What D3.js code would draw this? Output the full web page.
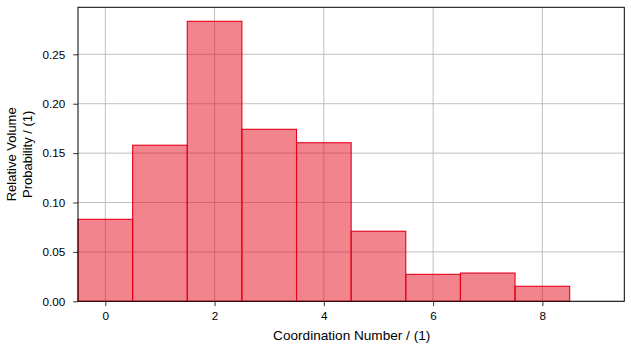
<!DOCTYPE html>
<html><head><meta charset="utf-8">
<script src="https://cdn.jsdelivr.net/npm/d3@7"></script>
<style>body{margin:0;background:#fff}svg{display:block}</style>
</head><body><svg id="c" width="631" height="349"></svg>
<script>
const categories = [0,1,2,3,4,5,6,7,8,9];
const values = [0.083,0.158,0.2834,0.1741,0.1605,0.0709,0.0273,0.0286,0.0152,0];
const xTicks = [0,2,4,6,8];
const yTicks = [0,0.05,0.10,0.15,0.20,0.25];
const xLabel = "Coordination Number / (1)";
const yLabelLines = ["Relative Volume","Probability / (1)"];

const svg = d3.select("#c");
const L=78, R=624.3, T=7.3, B=301.3;
const x = d3.scaleLinear().domain([-0.5,9.5]).range([L,R]);
const y = d3.scaleLinear().domain([0,0.2976]).range([B,T]);
const font = "Liberation Sans, Arial, sans-serif";

// grid
const g = svg.append("g");
g.selectAll(".gx").data(xTicks).join("line")
 .attr("x1",d=>x(d)).attr("x2",d=>x(d)).attr("y1",T).attr("y2",B)
 .attr("stroke","#b0b0b0").attr("stroke-width",0.8);
g.selectAll(".gy").data(yTicks).join("line")
 .attr("x1",L).attr("x2",R).attr("y1",d=>y(d)).attr("y2",d=>y(d))
 .attr("stroke","#b0b0b0").attr("stroke-width",0.8);

// bars
svg.append("g").selectAll("rect").data(categories).join("rect")
 .attr("x",(d)=>x(d-0.5)).attr("width",(d)=>x(d+0.5)-x(d-0.5))
 .attr("y",(d,i)=>y(values[i])).attr("height",(d,i)=>y(0)-y(values[i]))
 .attr("fill","rgb(228,10,28)").attr("fill-opacity",0.5)
 .attr("stroke","#e8001c").attr("stroke-width",1.1);

// axes
const xa = svg.append("g").attr("transform",`translate(0,${B})`)
 .call(d3.axisBottom(x).tickValues(xTicks).tickSize(4.8).tickPadding(5.5).tickFormat(d3.format("d")));
const ya = svg.append("g").attr("transform",`translate(${L},0)`)
 .call(d3.axisLeft(y).tickValues(yTicks).tickSize(4.8).tickPadding(8).tickFormat(d3.format(".2f")));
[xa,ya].forEach(a=>{a.select(".domain").remove();a.selectAll("text").attr("font-family",font).attr("font-size",11.7).attr("fill","#000");a.selectAll("line").attr("stroke","#000").attr("stroke-width",0.8);});

// frame
svg.append("rect").attr("x",L).attr("y",T).attr("width",R-L).attr("height",B-T)
 .attr("fill","none").attr("stroke","#000").attr("stroke-width",1);

svg.append("text").attr("x",351.7).attr("y",339.5).attr("text-anchor","middle")
 .attr("font-family",font).attr("font-size",13.6).text(xLabel);
const yl = svg.append("text").attr("transform",`translate(16,${(T+B)/2}) rotate(-90)`)
 .attr("text-anchor","middle").attr("font-family",font).attr("font-size",13);
yLabelLines.forEach((t,i)=>yl.append("tspan").attr("x",0).attr("dy",i?15.5:0).text(t));
</script></body></html>
